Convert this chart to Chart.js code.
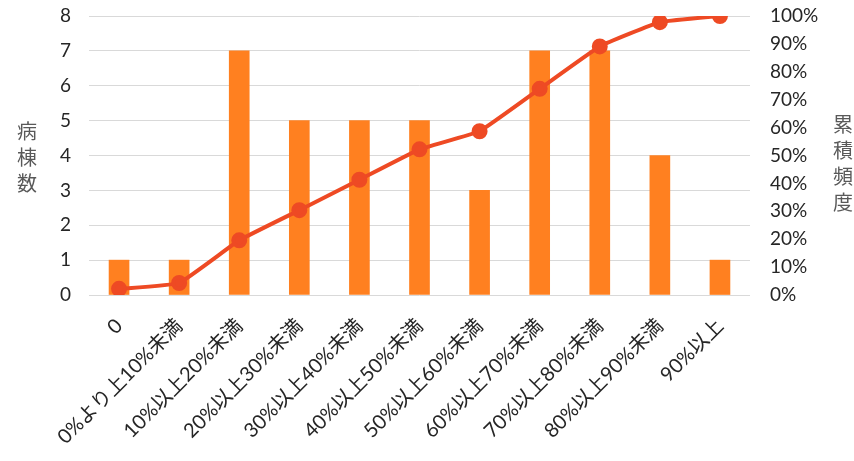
<!DOCTYPE html>
<html>
<head>
<meta charset="utf-8">
<script src="https://cdn.jsdelivr.net/npm/chart.js@4/dist/chart.umd.min.js"></script>
<style>
  html, body { margin: 0; padding: 0; background: #fff; }
  #wrap { width: 854px; height: 461px; position: relative; }
</style>
</head>
<body>
<div id="wrap"><canvas id="c"></canvas></div>
<script>
// categories and values
const categories = ['0', '0%より上10%未満', '10%以上20%未満', '20%以上30%未満', '30%以上40%未満',
  '40%以上50%未満', '50%以上60%未満', '60%以上70%未満', '70%以上80%未満', '80%以上90%未満', '90%以上'];
const wardCounts = [1, 1, 7, 5, 5, 5, 3, 7, 7, 4, 1];
const cumulativePct = [2.2, 4.3, 19.6, 30.4, 41.3, 52.2, 58.7, 73.9, 89.1, 97.8, 100];
const leftTitle = ['病', '棟', '数'];
const rightTitle = ['累', '積', '頻', '度'];

const FONT = "Lato, 'Noto Sans CJK JP', sans-serif";
const CJK = "'Noto Sans CJK JP', sans-serif";

// vertical (stacked) axis titles
const verticalTitles = {
  id: 'verticalTitles',
  afterDraw(chart) {
    const ctx = chart.ctx;
    ctx.save();
    ctx.fillStyle = '#595959';
    ctx.font = '20px ' + CJK;
    ctx.textAlign = 'center';
    ctx.textBaseline = 'middle';
    leftTitle.forEach((ch, i) => ctx.fillText(ch, 27, 131 + i * 26));
    rightTitle.forEach((ch, i) => ctx.fillText(ch, 843, 124 + i * 26));
    ctx.restore();
  }
};

// keep the plot area where the reference has it
const fixPad = (s) => { s.paddingTop = 0; s.paddingBottom = 0; };

new Chart(document.getElementById('c'), {
  data: {
    labels: categories,
    datasets: [
      {
        type: 'line',
        label: '累積頻度',
        data: cumulativePct,
        yAxisID: 'y1',
        borderColor: '#EE4A24',
        backgroundColor: '#EE4A24',
        borderWidth: 4,
        pointRadius: 6,
        pointHoverRadius: 6,
        tension: 0.1,
        order: 0
      },
      {
        type: 'bar',
        label: '病棟数',
        data: wardCounts,
        yAxisID: 'y',
        backgroundColor: '#FF8020',
        barThickness: 20,
        order: 1
      }
    ]
  },
  options: {
    responsive: true,
    maintainAspectRatio: false,
    animation: false,
    layout: { padding: { top: 16, left: 0, right: 0, bottom: 0 } },
    plugins: {
      legend: { display: false },
      tooltip: { enabled: false }
    },
    scales: {
      x: {
        grid: { display: false },
        border: { display: false },
        ticks: {
          color: '#262626',
          font: { family: FONT, size: 20 },
          maxRotation: 45,
          minRotation: 45,
          padding: 11
        },
        afterFit: (s) => { s.height = 461 - 295; fixPad(s); }
      },
      y: {
        position: 'left',
        min: 0,
        max: 8,
        ticks: {
          stepSize: 1,
          color: '#262626',
          font: { family: FONT, size: 19 },
          padding: 18
        },
        grid: { color: '#D9D9D9', lineWidth: 1, drawTicks: false },
        border: { display: false },
        afterFit: (s) => { s.width = 89; fixPad(s); }
      },
      y1: {
        position: 'right',
        min: 0,
        max: 100,
        ticks: {
          stepSize: 10,
          color: '#262626',
          font: { family: FONT, size: 19 },
          padding: 12,
          callback: (v) => v + '%'
        },
        grid: { display: false },
        border: { display: false },
        afterFit: (s) => { s.width = 854 - 750; fixPad(s); }
      }
    }
  },
  plugins: [verticalTitles]
});
</script>
</body>
</html>
